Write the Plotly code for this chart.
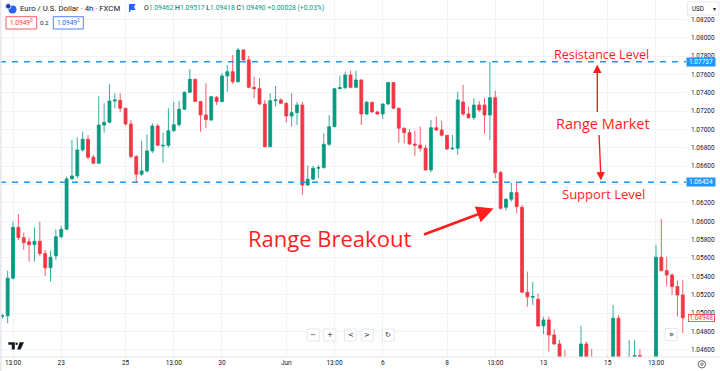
import plotly.graph_objects as go

# ---------------- data ----------------
bar_index = list(range(-2, 126))  # 4h bars, 0 = 19 May 13:00

open_prices = [
    1.04963, 1.04969, 1.05380, 1.05934, 1.05821, 1.05777, 1.05745, 1.05782, 1.05648, 1.05492,
    1.05623, 1.05832, 1.05913, 1.06461, 1.06494, 1.06777, 1.06893, 1.06697, 1.06632, 1.07048,
    1.07078, 1.07310, 1.07318, 1.07231, 1.07059, 1.06704, 1.06512, 1.06548, 1.06766, 1.07038,
    1.06820, 1.06827, 1.06986, 1.07052, 1.07220, 1.07405, 1.07547, 1.07305, 1.07157, 1.07103,
    1.07350, 1.07305, 1.07583, 1.07629, 1.07520, 1.07866, 1.07757, 1.07459, 1.07444, 1.07277,
    1.06812, 1.07313, 1.07321, 1.07285, 1.07147, 1.07183, 1.07266, 1.06395, 1.06458, 1.06578,
    1.06584, 1.06838, 1.07030, 1.07444, 1.07455, 1.07593, 1.07459, 1.07539, 1.07168, 1.07296,
    1.07190, 1.07168, 1.07277, 1.07510, 1.07231, 1.07013, 1.06965, 1.06841, 1.06830, 1.06795,
    1.06559, 1.07019, 1.06994, 1.06936, 1.06788, 1.06795, 1.07299, 1.07168, 1.07128, 1.07266,
    1.07266, 1.07157, 1.07346, 1.06530, 1.06152, 1.06240, 1.06312, 1.06152, 1.05227, 1.05172,
    1.05150, 1.04860, 1.04925, 1.04762, 1.04663, 1.04435, 1.04150, 1.04300, 1.04100, 1.04663,
    1.04300, 1.04250, 1.04350, 1.04100, 1.04000, 1.04944, 1.04300, 1.04200, 1.04300, 1.04537,
    1.04350, 1.04250, 1.04300, 1.05608, 1.05462, 1.05415, 1.05288, 1.05197,
]
high_prices = [
    1.04990, 1.05462, 1.05995, 1.06079, 1.05876, 1.05821, 1.05934, 1.05995, 1.05688, 1.05680,
    1.05913, 1.05952, 1.06486, 1.06885, 1.06914, 1.06975, 1.06939, 1.06722, 1.07365, 1.07285,
    1.07492, 1.07394, 1.07394, 1.07234, 1.07103, 1.06722, 1.06877, 1.06947, 1.07067, 1.07059,
    1.06965, 1.07231, 1.07302, 1.07310, 1.07411, 1.07656, 1.07550, 1.07310, 1.07503, 1.07360,
    1.07365, 1.07612, 1.07702, 1.07811, 1.07888, 1.07871, 1.07801, 1.07575, 1.07558, 1.07321,
    1.07394, 1.07474, 1.07340, 1.07292, 1.07394, 1.07302, 1.07299, 1.06606, 1.06606, 1.06613,
    1.06958, 1.07157, 1.07449, 1.07583, 1.07629, 1.07640, 1.07637, 1.07545, 1.07310, 1.07302,
    1.07204, 1.07285, 1.07520, 1.07515, 1.07238, 1.07023, 1.07001, 1.06986, 1.07030, 1.06830,
    1.07103, 1.07139, 1.07092, 1.06939, 1.06939, 1.07411, 1.07484, 1.07248, 1.07340, 1.07310,
    1.07340, 1.07738, 1.07422, 1.06548, 1.06250, 1.06421, 1.06421, 1.06178, 1.05451, 1.05339,
    1.05216, 1.04958, 1.04961, 1.04824, 1.04707, 1.04599, 1.04400, 1.04450, 1.04860, 1.04689,
    1.04610, 1.04450, 1.04480, 1.04530, 1.05089, 1.04979, 1.04450, 1.04707, 1.04707, 1.04607,
    1.04480, 1.04450, 1.05741, 1.06022, 1.05615, 1.05433, 1.05353, 1.05361,
]
low_prices = [
    1.04936, 1.04889, 1.05366, 1.05796, 1.05688, 1.05560, 1.05560, 1.05623, 1.05405, 1.05342,
    1.05579, 1.05810, 1.05905, 1.06455, 1.06469, 1.06758, 1.06676, 1.06624, 1.06624, 1.06965,
    1.07067, 1.07231, 1.07190, 1.07045, 1.06687, 1.06421, 1.06494, 1.06530, 1.06741, 1.06820,
    1.06639, 1.06805, 1.06975, 1.07030, 1.07212, 1.07394, 1.07299, 1.06975, 1.07016, 1.07092,
    1.07266, 1.07292, 1.07411, 1.07495, 1.07510, 1.07749, 1.07449, 1.07340, 1.07266, 1.06805,
    1.06805, 1.07248, 1.07277, 1.07074, 1.07030, 1.07048, 1.06286, 1.06384, 1.06450, 1.06469,
    1.06573, 1.06820, 1.07023, 1.07438, 1.07438, 1.07449, 1.07449, 1.07048, 1.07154, 1.07183,
    1.07157, 1.07114, 1.07266, 1.07220, 1.06856, 1.06849, 1.06834, 1.06712, 1.06758, 1.06551,
    1.06534, 1.06983, 1.06921, 1.06777, 1.06777, 1.06722, 1.07150, 1.07117, 1.07103, 1.07190,
    1.06958, 1.06885, 1.06469, 1.06123, 1.06115, 1.06214, 1.06087, 1.05216, 1.05070, 1.05089,
    1.04845, 1.04772, 1.04580, 1.04652, 1.04370, 1.04050, 1.04000, 1.04050, 1.04020, 1.04200,
    1.04150, 1.04100, 1.04000, 1.03800, 1.03900, 1.04200, 1.04100, 1.04100, 1.04200, 1.04250,
    1.04150, 1.04100, 1.04200, 1.05454, 1.05288, 1.05197, 1.04961, 1.04780,
]
close_prices = [
    1.04969, 1.05380, 1.05934, 1.05821, 1.05767, 1.05745, 1.05782, 1.05648, 1.05492, 1.05608,
    1.05832, 1.05913, 1.06461, 1.06494, 1.06777, 1.06893, 1.06697, 1.06632, 1.07048, 1.07078,
    1.07310, 1.07321, 1.07231, 1.07059, 1.06704, 1.06512, 1.06548, 1.06766, 1.07038, 1.06827,
    1.06827, 1.06986, 1.07052, 1.07220, 1.07405, 1.07547, 1.07305, 1.07157, 1.07108, 1.07357,
    1.07305, 1.07583, 1.07629, 1.07520, 1.07866, 1.07757, 1.07459, 1.07444, 1.07277, 1.06812,
    1.07313, 1.07321, 1.07285, 1.07147, 1.07183, 1.07266, 1.06395, 1.06458, 1.06578, 1.06584,
    1.06838, 1.07030, 1.07444, 1.07455, 1.07593, 1.07459, 1.07539, 1.07168, 1.07296, 1.07190,
    1.07168, 1.07277, 1.07510, 1.07231, 1.07013, 1.06965, 1.06841, 1.06830, 1.06795, 1.06559,
    1.07019, 1.06994, 1.06936, 1.06788, 1.06795, 1.07321, 1.07168, 1.07128, 1.07266, 1.07212,
    1.07157, 1.07346, 1.06530, 1.06142, 1.06240, 1.06312, 1.06159, 1.05227, 1.05176, 1.05179,
    1.04860, 1.04925, 1.04762, 1.04663, 1.04435, 1.04150, 1.04300, 1.04100, 1.04663, 1.04300,
    1.04250, 1.04350, 1.04100, 1.04000, 1.04944, 1.04300, 1.04200, 1.04400, 1.04537, 1.04350,
    1.04250, 1.04300, 1.05608, 1.05462, 1.05415, 1.05288, 1.05197, 1.04948,
]

time_tick_index = [0, 9, 21, 30, 39, 51, 60, 69, 81, 90, 99, 111, 120]
time_tick_labels = ["13:00", "23", "25", "13:00", "30", "Jun", "13:00", "6", "8",
                    "13:00", "13", "15", "13:00"]
price_ticks = [1.046, 1.048, 1.050, 1.052, 1.054, 1.056, 1.058, 1.060, 1.062, 1.064,
               1.066, 1.068, 1.070, 1.072, 1.074, 1.076, 1.078, 1.080, 1.082]
# 1.06400 is hidden behind the support price tag in the reference
price_tick_labels = ["1.04600", "1.04800", "1.05000", "1.05200", "1.05400", "1.05600", "1.05800",
                     "1.06000", "1.06200", "", "1.06600", "1.06800", "1.07000", "1.07200",
                     "1.07400", "1.07600", "1.07800", "1.08000", "1.08200"]

resistance_level = 1.07737
support_level = 1.06424
last_price = 1.04948

symbol_title = "Euro / U.S. Dollar · 4h · FXCM"
legend_ohlc = [("O", "1.09462"), ("H", "1.09517"), ("L", "1.09418"), ("C", "1.09490")]
legend_change = "+0.00028 (+0.03%)"
bid_text, spread_text, ask_text = "1.0949<sup>0</sup>", "0.2", "1.0949<sup>2</sup>"

# ---------------- styling ----------------
W, H = 720, 371
ML, MR, MT, MB = 0, 34, 0, 14
PW, PH = W - ML - MR, H - MT - MB
UP, DOWN = "#089981", "#f23645"
BLUE = "#2196f3"
RED_TXT = "#ff1e1e"
GRID = "#f0f3fa"
TXT = "#131722"
FONT = "Roboto"


def px(X):
    return (X - ML) / PW


def py(Y):
    return 1 - (Y - MT) / PH


fig = go.Figure(go.Candlestick(
    x=bar_index, open=open_prices, high=high_prices, low=low_prices, close=close_prices,
    increasing=dict(line=dict(color=UP, width=0.8), fillcolor=UP),
    decreasing=dict(line=dict(color=DOWN, width=0.8), fillcolor=DOWN),
    whiskerwidth=0, hoverinfo="skip", showlegend=False,
))

shapes = []
ann = []

# support / resistance dashed lines
for lvl in (resistance_level, support_level):
    shapes.append(dict(type="line", xref="paper", yref="y", x0=0, x1=1, y0=lvl, y1=lvl,
                       line=dict(color=BLUE, width=1.5, dash="6px,6px")))
    ann.append(dict(xref="paper", yref="y", x=px(686), y=lvl, xanchor="left", yanchor="middle",
                    text=f"{lvl:.5f}", showarrow=False, bgcolor=BLUE, width=28, height=8,
                    borderpad=0, font=dict(family=FONT, size=6.5, color="white")))

# last price tag
ann.append(dict(xref="paper", yref="y", x=px(688.5), y=last_price, xanchor="left", yanchor="middle",
                text=f"{last_price:.5f}", showarrow=False, bgcolor="white", bordercolor=DOWN,
                borderwidth=0.8, width=25, height=6.5, borderpad=0,
                font=dict(family=FONT, size=6.5, color=DOWN)))

# bottom separator and left strip
shapes.append(dict(type="line", xref="paper", yref="paper", x0=px(0), x1=px(720), y0=py(357), y1=py(357),
                   line=dict(color="#e0e3eb", width=1)))
shapes.append(dict(type="rect", xref="paper", yref="paper", x0=px(0), x1=px(1.5), y0=py(371), y1=py(0),
                   line=dict(width=0), fillcolor="#e6e8ee"))

# header: logo
shapes.append(dict(type="circle", xref="paper", yref="paper", x0=px(8.5), x1=px(16.5), y0=py(13.5), y1=py(5.5),
                   fillcolor="#2962ff", line=dict(width=0)))
shapes.append(dict(type="circle", xref="paper", yref="paper", x0=px(5.5), x1=px(11), y0=py(9), y1=py(3.5),
                   fillcolor="#1a3fb0", line=dict(color="white", width=0.8)))
ann.append(dict(xref="paper", yref="paper", x=px(18), y=py(8.3), xanchor="left", yanchor="middle",
                text=symbol_title, showarrow=False, font=dict(family=FONT, size=7.8, color=TXT)))
# flag icon
shapes.append(dict(type="path", xref="paper", yref="paper",
                   path=(f"M{px(129)},{py(4)} L{px(135.5)},{py(4)} L{px(134)},{py(7)} L{px(135.5)},{py(10)} "
                         f"L{px(130.3)},{py(10)} L{px(130.3)},{py(12)} L{px(129)},{py(12)} Z"),
                   fillcolor="#2962ff", line=dict(width=0)))
ohlc_txt = " ".join(f"{k}<span style='color:{UP}'>{v}</span>" for k, v in legend_ohlc)
ohlc_txt += f" <span style='color:{UP}'>{legend_change}</span>"
ann.append(dict(xref="paper", yref="paper", x=px(141.5), y=py(8.3), xanchor="left", yanchor="middle",
                text=ohlc_txt, showarrow=False, font=dict(family=FONT, size=6.8, color=TXT)))

# header row 2 boxes
for (x0, x1, col, txt) in ((6, 36.7, DOWN, bid_text), (53.3, 83.3, "#2962ff", ask_text)):
    shapes.append(dict(type="rect", xref="paper", yref="paper", x0=px(x0), x1=px(x1), y0=py(29), y1=py(16.7),
                       fillcolor="white", line=dict(color=col, width=0.8)))
    ann.append(dict(xref="paper", yref="paper", x=px((x0 + x1) / 2), y=py(23), xanchor="center",
                    yanchor="middle", text=txt, showarrow=False, font=dict(family=FONT, size=6.5, color=col)))
ann.append(dict(xref="paper", yref="paper", x=px(45), y=py(23), xanchor="center", yanchor="middle",
                text=spread_text, showarrow=False, font=dict(family=FONT, size=6.2, color=TXT)))

# USD box
shapes.append(dict(type="rect", xref="paper", yref="paper", x0=px(687.5), x1=px(719), y0=py(15), y1=py(2),
                   fillcolor="white", line=dict(color="#e0e3eb", width=0.8)))
ann.append(dict(xref="paper", yref="paper", x=px(689.5), y=py(8.5), xanchor="left", yanchor="middle",
                text="USD", showarrow=False, font=dict(family=FONT, size=6.3, color=TXT)))
ann.append(dict(xref="paper", yref="paper", x=px(714.5), y=py(8.5), xanchor="center", yanchor="middle",
                text="▾", showarrow=False, font=dict(family=FONT, size=6, color=TXT)))

# drawn annotations (texts + arrows)
ann.append(dict(xref="paper", yref="paper", x=px(601), y=py(54), xanchor="center", yanchor="middle",
                text="Resistance Level", showarrow=False, font=dict(family="Open Sans", size=12.5, color=RED_TXT)))
ann.append(dict(xref="paper", yref="paper", x=px(602.5), y=py(123.5), xanchor="center", yanchor="middle",
                text="Range Market", showarrow=False, font=dict(family="Open Sans", size=14.5, color=RED_TXT)))
ann.append(dict(xref="paper", yref="paper", x=px(603), y=py(193.5), xanchor="center", yanchor="middle",
                text="Support Level", showarrow=False, font=dict(family="Open Sans", size=13, color=RED_TXT)))
ann.append(dict(xref="paper", yref="paper", x=px(329), y=py(238), xanchor="center", yanchor="middle",
                text="Range Breakout", showarrow=False, font=dict(family="Open Sans", size=22, color=RED_TXT)))
ann.append(dict(xref="paper", yref="paper", x=px(597.3), y=py(64.5), ax=0, ay=49, text="",
                showarrow=True, arrowhead=2, arrowsize=1.2, arrowwidth=1.4, arrowcolor=RED_TXT, standoff=0))
ann.append(dict(xref="paper", yref="paper", x=px(601), y=py(180.5), ax=-2, ay=-47, text="",
                showarrow=True, arrowhead=2, arrowsize=1.2, arrowwidth=1.4, arrowcolor=RED_TXT, standoff=0))
ann.append(dict(xref="paper", yref="paper", x=px(493.5), y=py(208.5), ax=-71, ay=26.5, text="",
                showarrow=True, arrowhead=2, arrowsize=1.2, arrowwidth=2.8, arrowcolor=RED_TXT, standoff=0))

# navigation buttons
for cx, sym in ((313.3, "−"), (329.8, "+"), (350.5, "<"), (367.3, ">"), (388.3, "↻")):
    shapes.append(dict(type="rect", xref="paper", yref="paper", x0=px(cx - 6), x1=px(cx + 6),
                       y0=py(341), y1=py(329), fillcolor="white", line=dict(color="#e0e3eb", width=0.8)))
    ann.append(dict(xref="paper", yref="paper", x=px(cx), y=py(335), xanchor="center", yanchor="middle",
                    text=sym, showarrow=False, font=dict(family="DejaVu Sans", size=7, color=TXT)))
shapes.append(dict(type="rect", xref="paper", yref="paper", x0=px(665), x1=px(677), y0=py(340.5), y1=py(328.5),
                   fillcolor="white", line=dict(color="#e0e3eb", width=0.8)))
ann.append(dict(xref="paper", yref="paper", x=px(671), y=py(334.5), xanchor="center", yanchor="middle",
                text="»", showarrow=False, font=dict(family="DejaVu Sans", size=8, color=TXT)))

# TradingView logo
shapes.append(dict(type="path", xref="paper", yref="paper",
                   path=(f"M{px(8.3)},{py(342.3)} L{px(14.8)},{py(342.3)} L{px(14.8)},{py(349.5)} "
                         f"L{px(11.8)},{py(349.5)} L{px(11.8)},{py(344.8)} L{px(8.3)},{py(344.8)} Z"),
                   fillcolor=TXT, line=dict(width=0)))
shapes.append(dict(type="circle", xref="paper", yref="paper", x0=px(15.4), x1=px(17.8), y0=py(345), y1=py(342.6),
                   fillcolor=TXT, line=dict(width=0)))
shapes.append(dict(type="path", xref="paper", yref="paper",
                   path=(f"M{px(19.6)},{py(342.3)} L{px(24)},{py(342.3)} L{px(20.6)},{py(349.5)} "
                         f"L{px(17.2)},{py(349.5)} Z"),
                   fillcolor=TXT, line=dict(width=0)))

# bottom-right settings icon
shapes.append(dict(type="circle", xref="paper", yref="paper", x0=px(698.2), x1=px(705.6), y0=py(368), y1=py(360.6),
                   fillcolor="white", line=dict(color="#555", width=0.9)))
shapes.append(dict(type="circle", xref="paper", yref="paper", x0=px(700.7), x1=px(703.1), y0=py(365.5), y1=py(363.1),
                   fillcolor="white", line=dict(color="#555", width=0.9)))

fig.update_layout(
    width=W, height=H, margin=dict(l=ML, r=MR, t=MT, b=MB),
    paper_bgcolor="white", plot_bgcolor="white", showlegend=False, boxgap=0.22,
    shapes=shapes, annotations=ann,
    xaxis=dict(range=[-2.43, 125.6], tickvals=time_tick_index, ticktext=time_tick_labels,
               showgrid=True, gridcolor=GRID, gridwidth=1, zeroline=False, showline=False, ticks="",
               tickfont=dict(family=FONT, size=6.5, color=TXT), rangeslider=dict(visible=False),
               fixedrange=True),
    yaxis=dict(range=[1.04521, 1.08410], side="right", tickvals=price_ticks, ticktext=price_tick_labels,
               showgrid=True, gridcolor=GRID, gridwidth=1, zeroline=False, showline=False, ticks="",
               tickfont=dict(family=FONT, size=6.5, color=TXT), ticklabelstandoff=4, fixedrange=True),
)

# remove the browser's default 8px page margin so the 720x371 figure fills the window exactly
fig.write_html("out.html", config={"displayModeBar": False},
               post_script="document.body.style.margin='0';document.body.style.overflow='hidden';")
